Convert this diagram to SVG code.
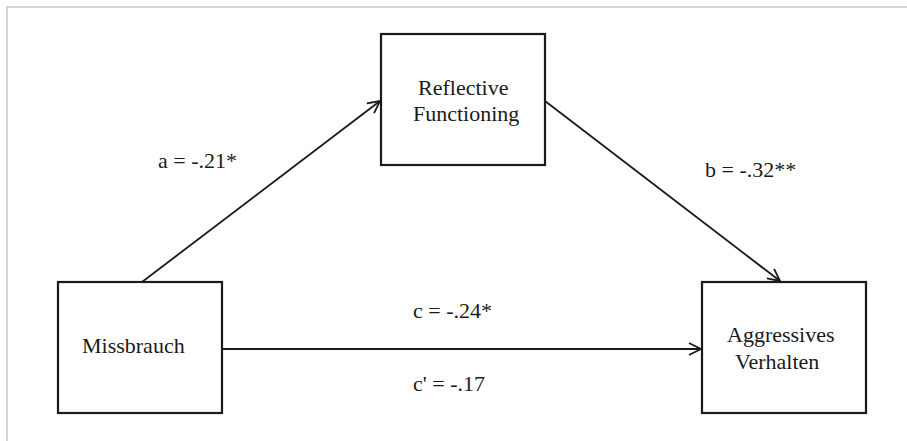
<svg xmlns="http://www.w3.org/2000/svg" width="907" height="441" viewBox="0 0 907 441">
<style>
.box{fill:#fff;stroke:#1a1a1a;stroke-width:2.2}
.t{font-family:"Liberation Serif","Times New Roman",serif;font-size:22px;fill:#1a1a1a}
.lbl{font-family:"Liberation Serif","Times New Roman",serif;font-size:22px;fill:#1a1a1a}
.conn{stroke:#1a1a1a;stroke-width:1.8;fill:none}
</style>
<defs>
<marker id="arr" viewBox="0 0 14 14" refX="13" refY="7" markerWidth="14" markerHeight="14" markerUnits="userSpaceOnUse" orient="auto">
<path d="M1,1 L13,7 L1,13" fill="none" stroke="#1a1a1a" stroke-width="1.8"/>
</marker>
</defs>
<rect width="907" height="441" fill="#fff"/>
<path d="M7,441 V7 H907" fill="none" stroke="#c8c8c8" stroke-width="1.5"/>
<g id="connectors">
<line class="conn" x1="142" y1="282" x2="380" y2="101" marker-end="url(#arr)"/>
<line class="conn" x1="545" y1="101" x2="780" y2="281" marker-end="url(#arr)"/>
<line class="conn" x1="223" y1="349" x2="701" y2="349" marker-end="url(#arr)"/>
<text class="lbl" x="158" y="168">a = -.21*</text>
<text class="lbl" x="705" y="177">b = -.32**</text>
<text class="lbl" x="413" y="318">c = -.24*</text>
<text class="lbl" x="413" y="391">c' = -.17</text>
</g>
<g id="reflective">
<rect class="box" x="381" y="34" width="164" height="131"/>
<text class="t" x="418" y="95">Reflective</text>
<text class="t" x="413" y="121">Functioning</text>
</g>
<g id="missbrauch">
<rect class="box" x="58" y="282" width="164" height="131"/>
<text class="t" x="82" y="353">Missbrauch</text>
</g>
<g id="aggressives">
<rect class="box" x="702" y="282" width="164" height="131"/>
<text class="t" x="727" y="342">Aggressives</text>
<text class="t" x="735" y="369">Verhalten</text>
</g>
</svg>
